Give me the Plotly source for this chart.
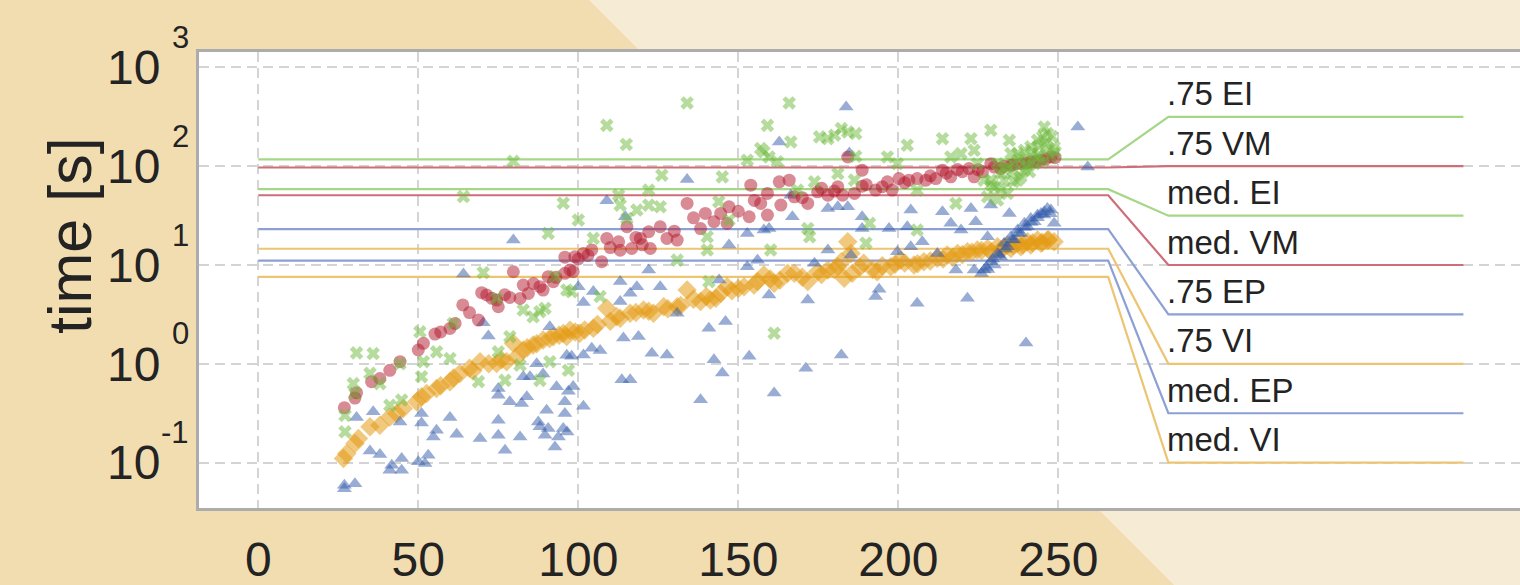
import math
import plotly.graph_objects as go

# ---------------- data ----------------
vm_x = [26.9, 30.2, 30.7, 35.4, 38, 41.1, 44.3, 50, 51.6, 55.2, 57, 59.9, 61.5, 63.9, 66, 68.8, 69.8, 71.4, 73,
        74.5, 75, 77, 78.6, 79.7, 81.8, 82.8, 84.4, 86, 88, 89, 90.6, 92.2, 93, 95.8, 97.4, 95.8, 98.4, 98.9,
        100, 101.6, 103, 104.2, 107.3, 108.9, 110, 112.6, 113.1, 115.2, 116.7, 118, 119.4, 120, 122, 122.5,
        125.6, 127.7, 130, 130.9, 134, 136, 138.2, 139.7, 142.4, 144.5, 147.1, 146.5, 150, 153.9, 153.4, 155,
        157, 159.1, 159.1, 162.8, 163.3, 165.9, 167.5, 170, 171.7, 174.8, 176, 178, 180, 181.1, 184.2, 186.3,
        182.6, 188.7, 188.7, 190, 192.9, 195, 196.6, 198.1, 200.2, 202, 203.3, 205.9, 208.6, 210, 211.7,
        213.8, 215, 216.4, 218.5, 220, 222.1, 223.7, 225, 226.3, 228.9, 230, 232, 233, 235.2, 236, 238.3,
        240, 241.4, 243, 244.6, 246, 247.7, 249]
vm_y = [0.36, 0.45, 0.51, 0.66, 0.71, 0.86, 1.05, 1.38, 1.61, 2.0, 2.1, 2.28, 2.56, 3.94, 3.3, 2.77, 5.25, 4.97, 4.6,
        4.42, 3.78, 5.0, 4.70, 8.55, 4.59, 6.27, 5.16, 6.5, 6.03, 5.58, 7.62, 6.78, 7.5, 12.0, 8.91, 8.24, 8.57, 12.1,
        11.5, 13.1, 12.5, 14.2, 10.8, 18.6, 15.0, 17.2, 14.1, 24.4, 14.7, 19.0, 18.6, 16.0, 21.7, 14.7,
        24.4, 18.6, 22.0, 17.9, 42.0, 30.0, 23.4, 33.3, 27.4, 33.3, 38.8, 26.3, 35.0, 64.3, 30.8, 45.0,
        42.0, 53.0, 32.0, 69.5, 40.4, 72.3, 49.0, 48.0, 42.0, 55.1, 60.0, 50.9, 56.0, 61.8, 124, 53.0,
        50.9, 91.2, 62.8, 65.0, 57.3, 62.0, 69.5, 57.3, 75.0, 68.0, 72.3, 75.0, 72.3, 80.0, 75.0,
        91.2, 85.0, 78.0, 92.5, 88.0, 94.6, 78.0, 92.0, 87.7, 106, 98.0, 94.6, 100, 102, 104, 106,
        108, 111, 112, 115, 118, 124, 122]

ei_x = [27.1, 27.1, 29.7, 30.2, 30.7, 35.9, 34.9, 38, 41.1, 44.8, 44.3, 50.5, 51.6, 51.0, 55.7, 59.9, 60.9, 64.1,
        68.8, 70.3, 74.5, 75, 77.1, 78.6, 79.7, 81.8, 82.8, 85.9, 88, 89.6, 90.6, 92.7, 95.3, 96.4, 91.1, 88, 96.9,
        100, 104.7, 108.9, 112.6, 113.1, 115.2, 115, 118.3, 122, 122, 125.6, 126.1, 130.9, 134, 140.3, 140.3,
        140.8, 143.9, 145, 147.1, 152.8, 157, 158, 159.1, 159.6, 162.2, 166.4, 165.9, 171.7, 172.3, 160.1,
        161.2, 173.8, 175.4, 178, 180.1, 182.2, 184.2, 181.1, 186.3, 168.5, 106.8, 97.9, 186.7, 186.7, 196.6,
        199.7, 202.8, 205.9, 213.8, 216.4, 218, 219.6, 222.7, 223.7, 228.9, 234.7, 191, 189.9, 205.9, 224.7,
        227.9, 226.8, 230, 232, 234.1, 236.2, 237.3, 239.4, 241.4, 243.5, 245.6, 245.1, 247.7, 248.7, 231,
        234.1, 228.9, 233.1, 238.3, 240.4, 242.5, 235.2, 231, 246.6, 243.5, 239.4, 237.3, 236, 238, 240, 242,
        244, 246, 248, 244, 247, 249, 233, 229, 232, 236, 241, 245]
ei_y = [0.30, 0.205, 0.63, 0.50, 1.29, 1.27, 0.80, 0.63, 0.38, 0.43, 1.0, 2.11, 1.05, 0.74, 1.32, 1.13, 2.56, 49.3,
        0.66, 8.36, 4.59, 1.32, 0.68, 1.88, 112, 0.97, 3.50, 2.99, 3.37, 3.64, 20.9, 7.62, 42.2, 5.58, 1.05, 0.68, 0.86,
        28.5, 18.6, 259, 50.9, 40.4, 29.6, 166, 36.0, 57.3, 40.4, 38.8, 81.1, 11.2, 437, 19.3, 14.2,
        6.79, 43.7, 78.0, 28.5, 115, 151, 140, 259, 124, 111, 176, 437, 23.4, 19.3, 14.2,
        2.04, 69.5, 198, 190, 206, 240, 222, 84.3, 72.3, 57.3, 4.79, 5.37, 214, 126, 124,
        106, 163, 57.3, 190, 124, 42.0, 134, 190, 145, 231, 183, 26.4, 16.6, 22.6, 106,
        49.0, 72.3, 61.7, 84.3, 98.4, 106, 134, 145, 157, 183, 249, 198, 124, 157, 45.4,
        53.0, 72.3, 72.3, 78.0, 115, 106, 134, 106, 214, 124, 91.2, 72.3, 90, 120, 100, 140,
        160, 170, 200, 130, 150, 140, 95, 65, 58, 70, 88, 110]

ep_x = [26.9, 26.9, 30.2, 30.7, 34.9, 38, 35.9, 41.1, 41.7, 44.8, 44.8, 44.3, 50, 52.1, 53.1, 51.0, 51.0, 54.7, 55.7,
        59.9, 62, 64.1, 69.3, 70.3, 71.9, 75, 75, 75, 75, 77.1, 78.6, 79.7, 81.8, 82.3, 83.9, 82.8, 84.9, 87.5, 88,
        89.6, 90.1, 90.6, 91.1, 92.7, 93.2, 93.8, 95.3, 95.8, 95.8, 96.4, 96.5, 87, 89, 96.9, 98.4, 101.6, 97.9,
        101.6, 100, 101.6, 104.7, 106.8, 104.2, 108.9, 113.1, 113.1, 114.7, 116.2, 114.1, 113.6, 116.2, 118.3,
        118.8, 122, 123, 125.6, 127.7, 130.9, 134, 138.2, 140.8, 142.4, 145, 144, 146, 147.1, 152.8, 153.4, 156,
        158, 159.6, 161.2, 162.8, 166.4, 166.9, 171.1, 171.7, 173.8, 178, 178, 181.1, 182.2, 183.7, 184.2,
        184.7, 185.2, 159.6, 152.8, 188.7, 188.7, 192.9, 194, 197.1, 199.7, 203.9, 202.8, 203.9, 205.9, 207.5,
        213.8, 212.2, 216.4, 218, 219.6, 221.6, 222.7, 223.7, 224.2, 227.9, 228.9, 234.7, 239.9, 248.7, 256.1,
        259.2, 226.8, 228.9, 231, 233.1, 235.2, 237.3, 239.4, 241.4, 243.5, 245.6, 247.7, 230, 232, 234.1,
        236.2, 238.3, 240.4, 242.5, 244.6, 246.6, 229.5, 231.5, 233.5, 235.5, 237.5, 239.5, 241.5, 243.5,
        245.5, 247.5, 227.5, 226, 228]
ep_y = [0.0545, 0.059, 0.061, 0.286, 0.131, 0.121, 0.327, 0.0836, 0.094, 0.11, 0.0836, 0.258, 0.102, 0.098, 0.119,
        0.314, 0.252, 0.182, 0.213, 0.286, 0.194, 8.11, 0.175, 2.61, 1.91, 0.562, 0.481, 0.269, 0.189, 0.133,
        0.412, 17.9, 0.182, 0.396, 0.463, 0.738, 0.738, 0.258, 0.23, 0.189, 0.339, 0.221, 2.37, 0.144, 0.585,
        0.182, 0.221, 0.314, 0.412, 1.22, 0.204, 1.0, 0.79, 0.526, 0.59, 0.371, 1.19, 1.23, 6.04, 4.17, 5.38,
        1.36, 1.44, 44.7, 6.79, 4.27, 30.8, 5.18, 1.82, 0.689, 0.689, 6.04, 1.89, 8.91, 1.28, 6.04, 1.23,
        3.25, 73.3, 0.433, 2.29, 1.10, 0.805, 7.06, 2.68, 15.9, 9.62, 1.19, 11.2, 22.6, 23.4, 0.506, 176,
        50.9, 30.8, 0.904, 4.43, 10.4, 14.2, 37.3, 38.8, 1.23, 398, 38.8, 136, 12.6, 4.98, 20.9, 30.8,
        23.4, 4.79, 5.68, 23.4, 13.6, 36.0, 24.4, 15.3, 4.10, 17.2, 34.6, 13.1, 26.4, 8.91, 22.6, 4.60,
        37.3, 8.91, 27.4, 19.3, 40.4, 33.3, 1.62, 26.4, 249, 98.4, 8.91, 10.8, 13.1, 16.6, 19.3, 22.6, 26.4,
        29.6, 32.0, 34.6, 36.0, 10.0, 12.1, 15.3, 17.9, 20.9, 24.4, 27.4, 33.3, 37.3, 11.5, 12.6, 14.5, 18.0,
        21.0, 24.0, 27.0, 30.0, 32.0, 33.0, 9.5, 8.2, 9.0]

vi_x = [26.6, 27.6, 30.2, 31.3, 34.9, 38, 41.1, 43.2, 45.3, 49.5, 51.0, 52.6, 55.7, 57, 59.9, 61, 63, 66, 67, 69.3,
        72, 74.5, 76, 77.6, 79.7, 80.7, 82.8, 84, 85.9, 87, 89, 91, 92.2, 94, 95.3, 96.4, 97.4, 99, 100.5, 102,
        104.7, 106, 108.9, 110, 112, 113.1, 116.2, 118, 120.4, 122, 123.5, 126.7, 128, 130.9, 132, 134, 136,
        138.2, 140, 141.3, 143, 144.5, 146.5, 148, 150, 151.8, 154.9, 156, 158, 160, 161.2, 163, 165.4, 167.5,
        170, 171.7, 174.8, 176, 178, 180, 181.1, 182.2, 183.1, 184.2, 185.2, 185.6, 188, 189.2, 192, 193.4,
        195, 197.6, 199, 200.7, 202, 204.9, 206, 208, 210, 212.2, 214, 215.3, 217, 218.5, 220, 221.6, 223,
        224.7, 226, 227.9, 229, 231, 232, 233, 234.1, 235.2, 236, 237.3, 238.3, 239, 240.4, 241.4, 242, 243.5,
        244.6, 245, 246.6, 247, 248.7]
vi_y = [0.11, 0.123, 0.156, 0.175, 0.23, 0.239, 0.29, 0.314, 0.352, 0.412, 0.463, 0.50, 0.562, 0.6, 0.658, 0.72,
        0.798, 0.9, 0.85, 1.05, 1.0, 1.01, 1.1, 1.05, 1.61, 1.17, 1.38, 1.45, 1.55, 1.6, 1.74, 1.8, 1.88, 1.95,
        2.03, 1.89, 2.19, 2.1, 2.04, 2.2, 2.29, 2.5, 3.65, 2.7, 3.0, 2.89, 3.25, 3.3, 3.51, 3.4, 3.25, 3.79,
        3.6, 3.79, 3.9, 5.58, 4.5, 4.27, 4.8, 4.43, 4.6, 5.18, 6.04, 5.5, 5.8, 6.04, 6.28, 6.8, 7.93, 7.2,
        6.53, 7.0, 8.24, 8.24, 7.5, 6.79, 8.57, 8.0, 8.91, 9.0, 9.62, 10.8, 7.33, 17.2, 13.1, 8.24, 9.5, 10.4,
        9.0, 8.57, 9.8, 9.62, 10.2, 11.2, 10.5, 10.0, 10.3, 10.8, 11.0, 11.7, 11.5, 12.6, 12.0, 13.1, 12.8,
        13.6, 13.5, 14.2, 14.0, 14.7, 13.6, 15.3, 14.2, 15.0, 15.9, 14.7, 15.8, 16.6, 15.3, 16.0, 17.2, 15.9,
        16.8, 17.9, 16.6, 17.0, 17.9, 18.0, 17.2]

q_labels = [".75 EI", ".75 VM", "med. EI", "med. VM", ".75 EP", ".75 VI", "med. EP", "med. VI"]
q_values = [117, 97, 58.5, 50.8, 23.1, 14.6, 11.1, 7.57]
q_label_y = [316, 100, 31.6, 10, 3.16, 1.0, 0.316, 0.1]
q_series = ["EI", "VM", "EI", "VM", "EP", "VI", "EP", "VI"]

x_ticks = [0, 50, 100, 150, 200, 250]
y_ticks = [0.1, 1, 10, 100, 1000]
y_exponents = ["-1", "0", "1", "2", "3"]

# ---------------- style ----------------
W, H = 1520, 585
ML, MR, MT, MB = 199, 0, 52, 77
PW, PH = W - ML - MR, H - MT - MB
FONT = "Liberation Sans, Arial, Helvetica, sans-serif"
TXT = "rgb(35,35,35)"

marker_col = {"VM": "rgb(178,24,43)", "EI": "rgb(110,185,60)", "EP": "rgb(50,90,170)", "VI": "rgb(228,155,20)"}
line_col = {"VM": "rgb(205,110,120)", "EI": "rgb(165,215,135)", "EP": "rgb(140,160,212)", "VI": "rgb(236,197,115)"}

X_BREAK, X_LABEL, X_END = 265.6, 284.4, 376.6


def px_to_paper_x(px):
    return (px - ML) / PW


def py_to_paper_y(py):
    return (H - MB - py) / PH


fig = go.Figure()

# quantile reference lines with leader lines to labels
for lab, v, ly, s in zip(q_labels, q_values, q_label_y, q_series):
    fig.add_trace(go.Scatter(x=[0, X_BREAK, X_LABEL, X_END], y=[v, v, ly, ly], mode="lines",
                             line=dict(color=line_col[s], width=2.2), hoverinfo="skip", showlegend=False))
    fig.add_annotation(x=X_LABEL, y=math.log10(ly), text=lab, showarrow=False,
                       xanchor="left", yanchor="middle", yshift=23, xshift=-3,
                       font=dict(family=FONT, size=33, color=TXT))

series = [("VI", vi_x, vi_y, "diamond", 15, 0.55),
          ("EP", ep_x, ep_y, "triangle-up", 13, 0.5),
          ("VM", vm_x, vm_y, "circle", 13, 0.5),
          ("EI", ei_x, ei_y, "x", 12, 0.5)]
for name, xs, ys, sym, sz, op in series:
    fig.add_trace(go.Scatter(x=xs, y=ys, mode="markers", name=name, showlegend=False,
                             marker=dict(symbol=sym, size=sz, color=marker_col[name], opacity=op,
                                         line=dict(width=0))))

# background: light paper, darker diagonal band on the left, white plot area
dark = "rgb(242,221,177)"
x_a, x_b = px_to_paper_x(0), px_to_paper_x(589)
x_c = px_to_paper_x(1174)
y_top, y_bot = py_to_paper_y(0), py_to_paper_y(H)
fig.add_shape(type="path", xref="paper", yref="paper", layer="below", line=dict(width=0), fillcolor=dark,
              path=f"M {x_a},{y_top} L {x_b},{y_top} L {x_c},{y_bot} L {x_a},{y_bot} Z")
fig.add_shape(type="rect", xref="paper", yref="paper", layer="below", x0=0, x1=1, y0=0, y1=1,
              line=dict(width=0), fillcolor="white")

# y tick exponents
for v, e in zip(y_ticks, y_exponents):
    fig.add_annotation(xref="paper", x=px_to_paper_x(191), y=math.log10(v), yref="y",
                       text=e, showarrow=False, xanchor="right", yanchor="middle", yshift=30,
                       font=dict(family=FONT, size=31, color=TXT))

# y title
fig.add_annotation(xref="paper", yref="paper", x=px_to_paper_x(70), y=py_to_paper_y(236),
                   text="time [s]", textangle=-90, showarrow=False, xanchor="center", yanchor="middle",
                   font=dict(family=FONT, size=61, color=TXT))

grid = dict(showgrid=True, gridcolor="rgb(212,212,212)", gridwidth=1.5, griddash="10px,6px", zeroline=False)
fig.update_layout(
    width=W, height=H, margin=dict(l=ML, r=MR, t=MT, b=MB),
    paper_bgcolor="rgb(246,235,212)", plot_bgcolor="rgba(0,0,0,0)",
    showlegend=False,
    xaxis=dict(range=[(ML - 258.3) / 3.2, (W - 258.3) / 3.2], tickvals=x_ticks, ticktext=[str(t) for t in x_ticks],
               tickfont=dict(family=FONT, size=48, color=TXT), ticks="", ticklabelstandoff=7,
               showline=True, mirror=True, linecolor="rgb(172,172,172)", linewidth=3, **grid),
    yaxis=dict(type="log", range=[-1.4595, 3.156], tickvals=y_ticks, ticktext=["10"] * len(y_ticks),
               tickfont=dict(family=FONT, size=48, color=TXT), ticks="", ticklabelstandoff=26,
               showline=True, linecolor="rgb(172,172,172)", linewidth=3, **grid),
)

fig.write_html("out.html", config={"displayModeBar": False},
               post_script="document.body.style.margin='0';document.body.style.overflow='hidden';")
